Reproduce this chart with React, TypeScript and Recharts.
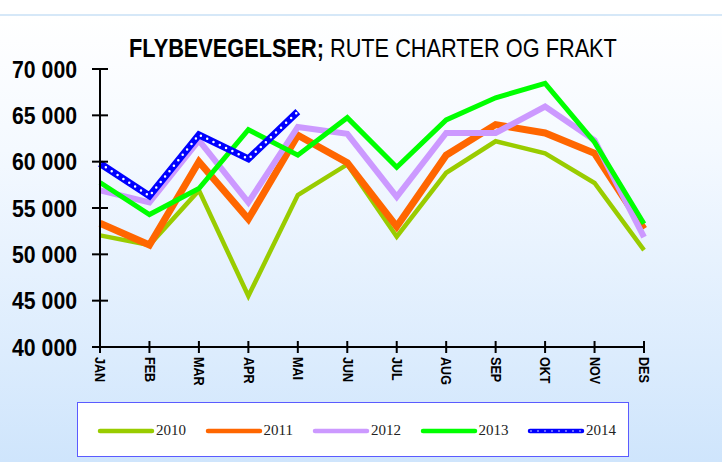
import React from 'react';
import { LineChart, Line, XAxis, YAxis } from 'recharts';

const months = ['JAN', 'FEB', 'MAR', 'APR', 'MAI', 'JUN', 'JUL', 'AUG', 'SEP', 'OKT', 'NOV', 'DES'];
const y2010 = [52050, 51000, 56900, 45500, 56400, 59700, 51900, 58800, 62200, 60900, 57700, 50450];
const y2011 = [53350, 51000, 60000, 53800, 62850, 59900, 53000, 60700, 64000, 63100, 60900, 52750];
const y2012 = [56900, 55600, 62300, 55600, 63750, 63000, 56200, 63100, 63100, 65950, 62300, 51850];
const y2013 = [57750, 54300, 57100, 63450, 60700, 64750, 59400, 64500, 66900, 68450, 62100, 53300];
const y2014 = [59800, 56300, 62900, 60300, 65400];
const yTicks = [40000, 45000, 50000, 55000, 60000, 65000, 70000];

const series = [
  { key: 'y2010', name: '2010', color: '#99cc00', width: 4.5 },
  { key: 'y2011', name: '2011', color: '#ff6600', width: 7 },
  { key: 'y2012', name: '2012', color: '#cc99ff', width: 6 },
  { key: 'y2013', name: '2013', color: '#00ff00', width: 5 },
  { key: 'y2014', name: '2014', color: '#0000ff', width: 7 },
];

const data = months.map((m, i) => ({
  month: m,
  y2010: y2010[i],
  y2011: y2011[i],
  y2012: y2012[i],
  y2013: y2013[i],
  y2014: y2014[i],
}));

// no narrow font here, so squeeze Liberation Sans
const sans = '"Liberation Sans", Arial, sans-serif';

const fmt = (v: number) => `${Math.floor(v / 1000)} 000`;

function YTick(props: any) {
  const { x, y, payload } = props;
  return (
    <g>
      <line x1={x - 8} x2={x + 8} y1={y} y2={y} stroke="#000" strokeWidth={2} />
      <text
        x={0}
        y={0}
        transform={`translate(${x - 23} ${y + 8.5}) scale(0.885 1)`}
        textAnchor="end"
        fontFamily={sans}
        fontWeight="bold"
        fontSize={24}
        fill="#000"
      >
        {fmt(payload.value)}
      </text>
    </g>
  );
}

function XTick(props: any) {
  const { x, y, payload } = props;
  return (
    <g>
      <line x1={x} x2={x} y1={y - 6} y2={y + 6} stroke="#000" strokeWidth={2} />
      <text
        x={0}
        y={0}
        transform={`translate(${x} ${y + 10}) rotate(90) scale(0.9 1)`}
        textAnchor="start"
        dominantBaseline="central"
        fontFamily={sans}
        fontWeight="bold"
        fontSize={14}
        fill="#000"
      >
        {payload.value}
      </text>
    </g>
  );
}

export default function App() {
  return (
    <div
      style={{
        position: 'fixed',
        left: 0,
        top: 0,
        width: 722,
        height: 462,
        background: 'linear-gradient(to bottom, #ffffff 0px, #ffffff 14px, #d6e8f8 14px, #d6e8f8 16px, #ffffff 16px, #f4f9ff 150px, #cfe5fc 462px)',
        overflow: 'hidden',
      }}
    >
      <div
        style={{
          position: 'absolute',
          left: 373,
          top: 33,
          transform: 'translateX(-50%) scaleX(0.82)',
          fontFamily: sans,
          fontSize: 26.5,
          lineHeight: '30px',
          color: '#000',
          whiteSpace: 'nowrap',
        }}
      >
        <b>FLYBEVEGELSER;</b> RUTE CHARTER OG FRAKT
      </div>
      <LineChart width={722} height={462} data={data} margin={{ top: 69, right: 78, bottom: 85, left: 0 }}>
        <XAxis
          dataKey="month"
          interval={0}
          height={30}
          tickSize={0}
          tickMargin={0}
          tickLine={false}
          axisLine={{ stroke: '#000', strokeWidth: 2 }}
          tick={<XTick />}
        />
        <YAxis
          width={100}
          domain={[40000, 70000]}
          ticks={yTicks}
          interval={0}
          tickSize={0}
          tickMargin={0}
          tickLine={false}
          axisLine={{ stroke: '#000', strokeWidth: 2 }}
          tick={<YTick />}
        />
        {series.map(s => (
          <Line
            key={s.key}
            dataKey={s.key}
            stroke={s.color}
            strokeWidth={s.width}
            dot={false}
            activeDot={false}
            isAnimationActive={false}
          />
        ))}
        <Line
          dataKey="y2014"
          stroke="#ffffff"
          strokeWidth={2.5}
          strokeDasharray="0 7"
          strokeLinecap="round"
          dot={false}
          activeDot={false}
          legendType="none"
          isAnimationActive={false}
        />
      </LineChart>
      <div
        style={{
          position: 'absolute',
          left: 77,
          top: 402,
          width: 550,
          height: 53,
          background: '#fff',
          border: '1px solid #5b5bff',
          fontFamily: '"Liberation Serif", serif',
          fontSize: 15,
          color: '#222',
        }}
      >
        {series.map((s, i) => (
          <div key={s.key} style={{ position: 'absolute', left: 19 + i * 107.5, top: 19, display: 'flex', alignItems: 'center' }}>
            <svg width={58} height={12}>
              <line x1={3} x2={55} y1={6} y2={6} stroke={s.color} strokeWidth={4.5} strokeLinecap="round" />
              {s.key === 'y2014' && (
                <line x1={4} x2={55} y1={6} y2={6} stroke="#fff" strokeWidth={1.5} strokeDasharray="0 7" strokeLinecap="round" />
              )}
            </svg>
            <span style={{ marginLeft: 1 }}>{s.name}</span>
          </div>
        ))}
      </div>
    </div>
  );
}
